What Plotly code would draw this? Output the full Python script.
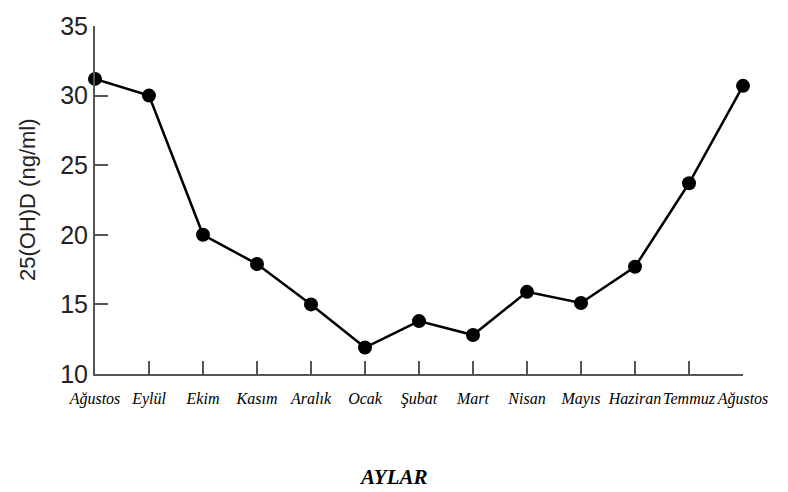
import plotly.graph_objects as go

months = ["Ağustos", "Eylül", "Ekim", "Kasım", "Aralık", "Ocak", "Şubat",
          "Mart", "Nisan", "Mayıs", "Haziran", "Temmuz", "Ağustos"]
values = [31.2, 30.0, 20.0, 17.9, 15.0, 11.9, 13.8, 12.8, 15.9, 15.1, 17.7, 23.7, 30.7]
y_ticks = [10, 15, 20, 25, 30, 35]
x_pos = list(range(len(months)))

fig = go.Figure()
fig.add_trace(go.Scatter(
    x=x_pos, y=values, mode="lines+markers",
    line=dict(color="black", width=2.5),
    marker=dict(color="black", size=14),
    cliponaxis=False, showlegend=False,
))

fig.update_layout(
    width=788, height=492,
    margin=dict(l=95, r=45, t=18, b=118),
    plot_bgcolor="white", paper_bgcolor="white",
    xaxis=dict(
        range=[0, 12], tickmode="array", tickvals=x_pos, ticktext=months,
        showgrid=False, zeroline=False,
        showline=True, linecolor="#555555", linewidth=2,
        ticks="inside", ticklen=13, tickwidth=2, tickcolor="#555555",
        tickfont=dict(family="Liberation Serif", size=16, color="black", style="italic"),
        tickangle=0, ticklabelstandoff=9, ticklabeloverflow="allow",
    ),
    yaxis=dict(
        range=[10, 35], tickmode="array", tickvals=y_ticks,
        showgrid=False, zeroline=False,
        showline=True, linecolor="#555555", linewidth=2,
        ticks="inside", ticklen=13, tickwidth=2, tickcolor="#555555",
        tickfont=dict(family="Liberation Sans", size=25, color="#222222"),
        ticklabeloverflow="allow",
    ),
    annotations=[
        dict(text="25(OH)D (ng/ml)", textangle=-90, xref="paper", yref="paper",
             x=0, y=0.5, xshift=-68, xanchor="center", yanchor="middle",
             showarrow=False, font=dict(family="Liberation Sans", size=22, color="#222222")),
        dict(text="<b><i>AYLAR</i></b>", xref="paper", yref="paper",
             x=0.46, y=-0.295, xanchor="center", yanchor="middle",
             showarrow=False, font=dict(family="Liberation Serif", size=21, color="black")),
    ],
)

fig.write_html("out.html", config={"displayModeBar": False},
               post_script="document.body.style.margin='0';")
